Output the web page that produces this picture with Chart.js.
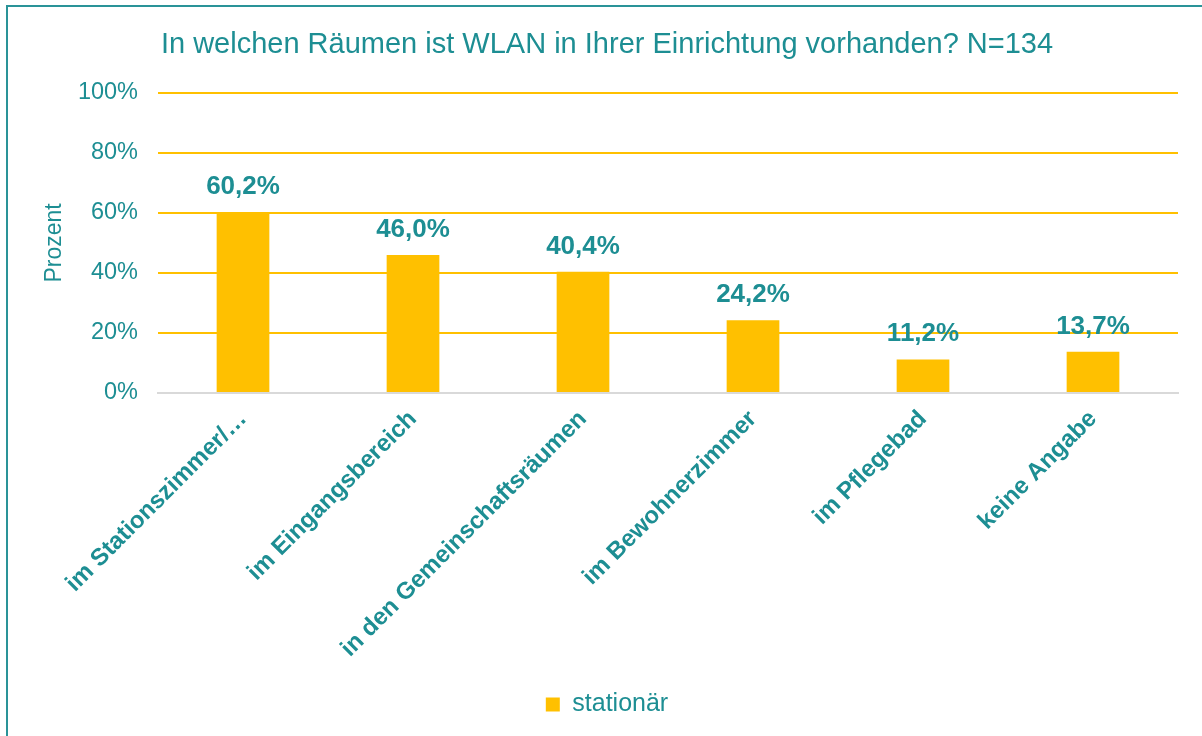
<!DOCTYPE html>
<html><head><meta charset="utf-8">
<script src="https://cdn.jsdelivr.net/npm/chart.js@4/dist/chart.umd.min.js"></script>
<style>
html,body{margin:0;padding:0;background:#fff;overflow:hidden;width:1202px;height:736px}
#frame{position:absolute;left:6px;top:5px;width:1300px;height:800px;border:2px solid #2A9398;box-sizing:border-box}
#wrap{position:absolute;left:0;top:0;width:1202px;height:736px}
</style></head><body>
<div id="frame"></div>
<div id="wrap"><canvas id="c" width="1202" height="736"></canvas></div>
<script>
const titleText = 'In welchen Räumen ist WLAN in Ihrer Einrichtung vorhanden? N=134';
const categories = ['im Stationszimmer/…', 'im Eingangsbereich', 'in den Gemeinschaftsräumen', 'im Bewohnerzimmer', 'im Pflegebad', 'keine Angabe'];
const values = [60.2, 46.0, 40.4, 24.2, 11.2, 13.7];
const seriesName = 'stationär';
const yAxisTitle = 'Prozent';
const yMin = 0, yMax = 100, yStep = 20;

const TEAL = '#1D8E93';
const GOLD = '#FFC000';
const FONT = '"Liberation Sans", Arial, sans-serif';

function fmt(v) { return v.toFixed(1).replace('.', ',') + '%'; }

const dataLabels = {
  id: 'dataLabels',
  afterDatasetsDraw(chart) {
    const ctx = chart.ctx;
    const meta = chart.getDatasetMeta(0);
    ctx.save();
    ctx.font = 'bold 26px ' + FONT;
    ctx.fillStyle = TEAL;
    ctx.textAlign = 'center';
    ctx.textBaseline = 'alphabetic';
    meta.data.forEach((bar, i) => {
      ctx.fillText(fmt(values[i]), bar.x, bar.y - 18);
    });
    ctx.restore();
  }
};

new Chart(document.getElementById('c'), {
  type: 'bar',
  data: {
    labels: categories,
    datasets: [{
      label: seriesName,
      data: values,
      backgroundColor: GOLD,
      borderWidth: 0,
      categoryPercentage: 1,
      barPercentage: 0.31
    }]
  },
  options: {
    responsive: false,
    animation: false,
    layout: { padding: { left: 36, right: 24, top: 0, bottom: 9 } },
    plugins: {
      title: {
        display: true,
        text: titleText,
        color: TEAL,
        font: { family: FONT, size: 29, weight: 'normal' },
        padding: { top: 28, bottom: 30 }
      },
      legend: {
        position: 'bottom',
        labels: {
          color: TEAL,
          font: { family: FONT, size: 25 },
          boxWidth: 14,
          boxHeight: 14,
          padding: 10
        }
      },
      tooltip: { enabled: false }
    },
    scales: {
      x: {
        grid: { display: false, drawTicks: false },
        border: { display: true, color: '#D9D9D9', width: 2 },
        ticks: {
          color: TEAL,
          font: { family: FONT, size: 24, weight: 'bold' },
          minRotation: 45,
          maxRotation: 45,
          padding: 12,
          autoSkip: false
        },
        afterFit(scale) { scale.height = 289; }
      },
      y: {
        min: yMin,
        max: yMax,
        border: { display: false },
        grid: {
          drawTicks: false,
          lineWidth: 2,
          color: (c) => (c.tick && c.tick.value === 0) ? 'rgba(0,0,0,0)' : GOLD
        },
        ticks: {
          stepSize: yStep,
          color: TEAL,
          font: { family: FONT, size: 23.5 },
          padding: 20,
          callback: (v) => v + '%'
        },
        title: {
          display: true,
          text: yAxisTitle,
          color: TEAL,
          font: { family: FONT, size: 23 },
          padding: { top: 5, bottom: 0 }
        },
        afterFit(scale) { scale.width = 122; }
      }
    }
  },
  plugins: [dataLabels]
});
</script>
</body></html>
